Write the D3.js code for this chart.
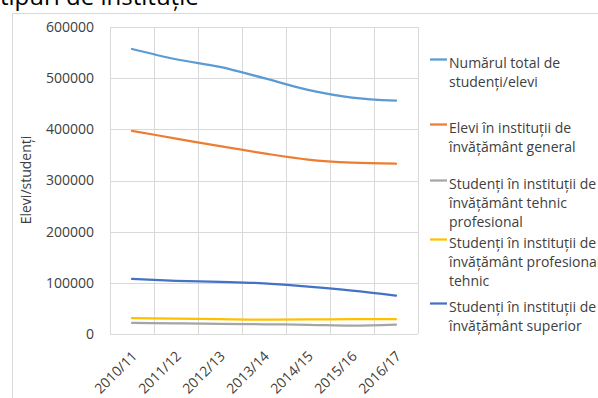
<!DOCTYPE html>
<html>
<head>
<meta charset="utf-8">
<script src="https://cdn.jsdelivr.net/npm/d3@7"></script>
<style>
  body { margin: 0; background: #fff; overflow: hidden; }
  svg { display: block; font-family: "Open Sans", sans-serif; }
</style>
</head>
<body>
<div id="chart"></div>
<script>
// Data
const years = ["2010/11", "2011/12", "2012/13", "2013/14", "2014/15", "2015/16", "2016/17"];
const totalStudents = [557000, 537000, 522000, 500000, 477000, 462000, 456000];
const generalSchools = [397000, 382000, 367000, 353000, 341000, 335000, 333000];
const techVocational = [21500, 21000, 20000, 19000, 18000, 16500, 18500];
const vocationalTech = [31000, 30000, 29000, 28000, 28500, 29000, 29300];
const higherEducation = [107500, 104000, 102000, 99000, 92500, 84700, 75000];
const yTicks = [0, 100000, 200000, 300000, 400000, 500000, 600000];

const seriesNames = [
  ["Numărul total de", "studenți/elevi"],
  ["Elevi în instituții de", "învățământ general"],
  ["Studenți în instituții de", "învățământ tehnic", "profesional"],
  ["Studenți în instituții de", "învățământ profesional", "tehnic"],
  ["Studenți în instituții de", "învățământ superior"]
];
const seriesValues = [totalStudents, generalSchools, techVocational, vocationalTech, higherEducation];
const colors = ["#5B9BD5", "#ED7D31", "#A5A5A5", "#FFC000", "#4472C4"];

// layout
const W = 598, H = 398;
const plot = { left: 110, right: 418, top: 27, bottom: 334 };
const legendTop = [63, 128, 184, 243, 307];

const svg = d3.select("#chart").append("svg")
  .attr("width", W)
  .attr("height", H);

// chart frame
svg.append("rect")
  .attr("x", 12.5).attr("y", 13.5)
  .attr("width", 700).attr("height", 500)
  .attr("fill", "none")
  .attr("stroke", "#d9d9d9");

// title (cut off at top)
svg.append("text")
  .attr("x", 0).attr("y", 5)
  .attr("font-size", 24)
  .attr("fill", "#000")
  .text("tipuri de instituție");

var xScale = d3.scaleBand().domain(years).range([plot.left, plot.right]).padding(0);
var yScale = d3.scaleLinear().domain([0, 600000]).range([plot.bottom, plot.top]);

// horizontal gridlines
svg.append("g").selectAll("line")
  .data(yTicks)
  .enter().append("line")
  .attr("x1", plot.left).attr("x2", plot.right)
  .attr("y1", d => Math.round(yScale(d)) + 0.5)
  .attr("y2", d => Math.round(yScale(d)) + 0.5)
  .attr("stroke", "#d9d9d9");

// vertical gridlines at category edges
const edges = years.map(d => xScale(d)).concat([plot.right]);
svg.append("g").selectAll("line")
  .data(edges)
  .enter().append("line")
  .attr("x1", d => Math.round(d) + 0.5).attr("x2", d => Math.round(d) + 0.5)
  .attr("y1", plot.top).attr("y2", plot.bottom)
  .attr("stroke", "#d9d9d9");

// Y axis
var yAxis = svg.append("g")
  .attr("transform", "translate(" + (plot.left - 16) + ",0)")
  .call(d3.axisLeft(yScale).tickValues(yTicks).tickSize(0).tickPadding(0).tickFormat(d3.format("d")));
yAxis.select(".domain").remove();
yAxis.selectAll("text")
  .attr("font-family", "Open Sans")
  .attr("font-size", 14)
  .attr("fill", "#404040");

// Y axis title
svg.append("text")
  .attr("transform", "translate(31,180) rotate(-90)")
  .attr("text-anchor", "middle")
  .attr("font-size", 14)
  .attr("fill", "#404040")
  .text("Elevi/studenți");

// X axis labels
svg.append("g").selectAll("text")
  .data(years)
  .enter().append("text")
  .attr("transform", d => "translate(" + (xScale(d) + xScale.bandwidth() / 2 + 6) + ",357) rotate(-45)")
  .attr("text-anchor", "end")
  .attr("font-size", 14)
  .attr("fill", "#404040")
  .text(d => d);

// lines
var line = d3.line()
  .x((d, i) => xScale(years[i]) + xScale.bandwidth() / 2)
  .y(d => yScale(d))
  .curve(d3.curveMonotoneX);

svg.append("g").selectAll("path")
  .data(seriesValues)
  .enter().append("path")
  .attr("d", line)
  .attr("fill", "none")
  .attr("stroke", (d, i) => colors[i])
  .attr("stroke-width", 2.25)
  .attr("stroke-linecap", "round");

// legend
var legend = svg.append("g").selectAll("g")
  .data(seriesNames)
  .enter().append("g")
  .attr("transform", (d, i) => "translate(0," + legendTop[i] + ")");

legend.append("line")
  .attr("x1", 430).attr("x2", 447)
  .attr("y1", -3.5).attr("y2", -3.5)
  .attr("stroke", (d, i) => colors[i])
  .attr("stroke-width", 2.25);

legend.each(function (lines) {
  d3.select(this).selectAll("text")
    .data(lines)
    .enter().append("text")
    .attr("x", 449)
    .attr("y", (d, j) => 5 + j * 19)
    .attr("font-size", 14)
    .attr("fill", "#404040")
    .text(d => d);
});
</script>
</body>
</html>
